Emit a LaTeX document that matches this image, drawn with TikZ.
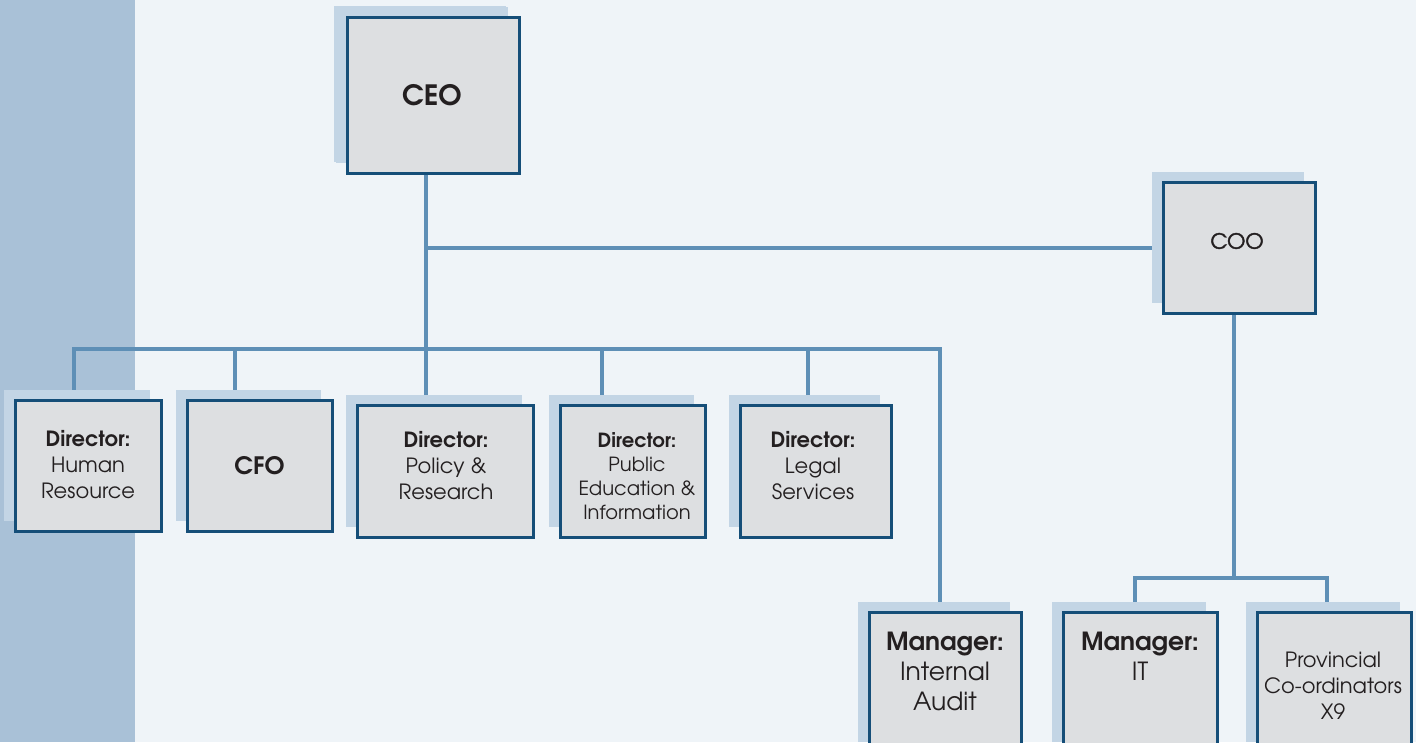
\documentclass[tikz,border=0pt]{standalone}
\usepackage{fontspec}
\setmainfont{TeX Gyre Adventor}
\newfontfamily\medfont[FakeBold=2]{TeX Gyre Adventor}
\usetikzlibrary{shadows}
\pgfdeclarelayer{back}
\pgfdeclarelayer{bg}
\pgfsetlayers{back,bg,main}
\definecolor{bgc}{HTML}{EFF4F8}
\definecolor{stripc}{HTML}{A9C1D7}
\definecolor{shadowc}{HTML}{C3D5E5}
\definecolor{boxfill}{HTML}{DDDFE1}
\definecolor{boxline}{HTML}{154E78}
\definecolor{connc}{HTML}{5E8FB6}
\definecolor{txtc}{HTML}{231F20}
\begin{document}
\begin{tikzpicture}[x=1pt,y=-1pt,
  box/.style={draw=boxline, line width=3pt, fill=boxfill, inner sep=0pt,
    general shadow={fill=shadowc, shadow xshift=-11pt, shadow yshift=10pt}},
  conn/.style={draw=connc, line width=4pt, line join=miter},
  lbl/.style={text=txtc, align=center, inner sep=0pt},
  dirtxt/.style={lbl, font=\fontsize{21}{26}\selectfont},
  mgrtxt/.style={lbl, font=\fontsize{25}{30}\selectfont}]
\useasboundingbox (0,0) rectangle (1416,742);
\begin{pgfonlayer}{back}
\fill[bgc] (0,0) rectangle (1416,742);
\fill[stripc] (0,0) rectangle (135,742);
\end{pgfonlayer}
\clip (0,0) rectangle (1416,742);

% boxes
\node[box, minimum width=172pt, minimum height=156pt,
  general shadow={fill=shadowc, shadow xshift=-13pt, shadow yshift=11pt}] (ceo) at (433,95) {};
\node[box, minimum width=152pt, minimum height=131pt] (coo) at (1239,247.5) {};
\node[box, minimum width=146pt, minimum height=131pt] (hr) at (88,465.5) {};
\node[box, minimum width=145pt, minimum height=131pt] (cfo) at (259.5,465.5) {};
\node[box, minimum width=176pt, minimum height=132pt] (pol) at (445,471) {};
\node[box, minimum width=145pt, minimum height=132pt] (pub) at (632.5,471) {};
\node[box, minimum width=151pt, minimum height=132pt] (leg) at (815.5,471) {};
\node[box, minimum width=152pt, minimum height=140pt] (aud) at (945,682) {};
\node[box, minimum width=154pt, minimum height=140pt] (it) at (1140,682) {};
\node[box, minimum width=154pt, minimum height=140pt] (prov) at (1334,682) {};

% texts
\node[lbl, font=\fontsize{28}{30}\selectfont\bfseries] (ceo-t) at (432,95) {CEO};
\node[lbl, font=\fontsize{21}{26}\medfont] (coo-t) at (1237,241) {COO};
\node[dirtxt] (hr-t) at (88,465) {{\bfseries Director:}\\Human\\Resource};
\node[lbl, font=\fontsize{24}{28}\selectfont\bfseries] (cfo-t) at (259.5,466) {CFO};
\node[dirtxt] (pol-t) at (446,466) {{\bfseries Director:}\\Policy \&\\Research};
\node[lbl, font=\fontsize{19.5}{24}\selectfont] (pub-t) at (637,476) {{\bfseries Director:}\\Public\\Education \&\\Information};
\node[dirtxt] (leg-t) at (813,466) {{\bfseries Director:}\\Legal\\Services};
\node[mgrtxt] (aud-t) at (945,671) {{\bfseries Manager:}\\Internal\\Audit};
\node[mgrtxt] (it-t) at (1140,656) {{\bfseries Manager:}\\IT};
\node[lbl, font=\fontsize{21}{26}\selectfont] (prov-t) at (1333,686) {Provincial\\Co-ordinators\\X9};

% connectors
\coordinate (j1) at (426,349);
\coordinate (bl) at (74,349);
\coordinate (b2) at (235,349);
\coordinate (b4) at (602,349);
\coordinate (b5) at (808,349);
\coordinate (br) at (940,349);
\coordinate (k) at (1234,577.5);
\coordinate (kl) at (1134.5,577.5);
\coordinate (kr) at (1327,577.5);
\begin{pgfonlayer}{bg}
\draw[conn] (ceo.south -| j1) -- (j1 |- pol.north);
\draw[conn] (j1 |- coo.west) -- (coo.west);
\draw[conn] (bl |- hr.north) -- (bl) -- (br) -- (br |- aud.north);
\draw[conn] (b2) -- (b2 |- cfo.north);
\draw[conn] (b4) -- (b4 |- pub.north);
\draw[conn] (b5) -- (b5 |- leg.north);
\draw[conn] (coo.south -| k) -- (k);
\draw[conn] (kl |- it.north) -- (kl) -- (kr) -- (kr |- prov.north);
\end{pgfonlayer}
\end{tikzpicture}
\end{document}
